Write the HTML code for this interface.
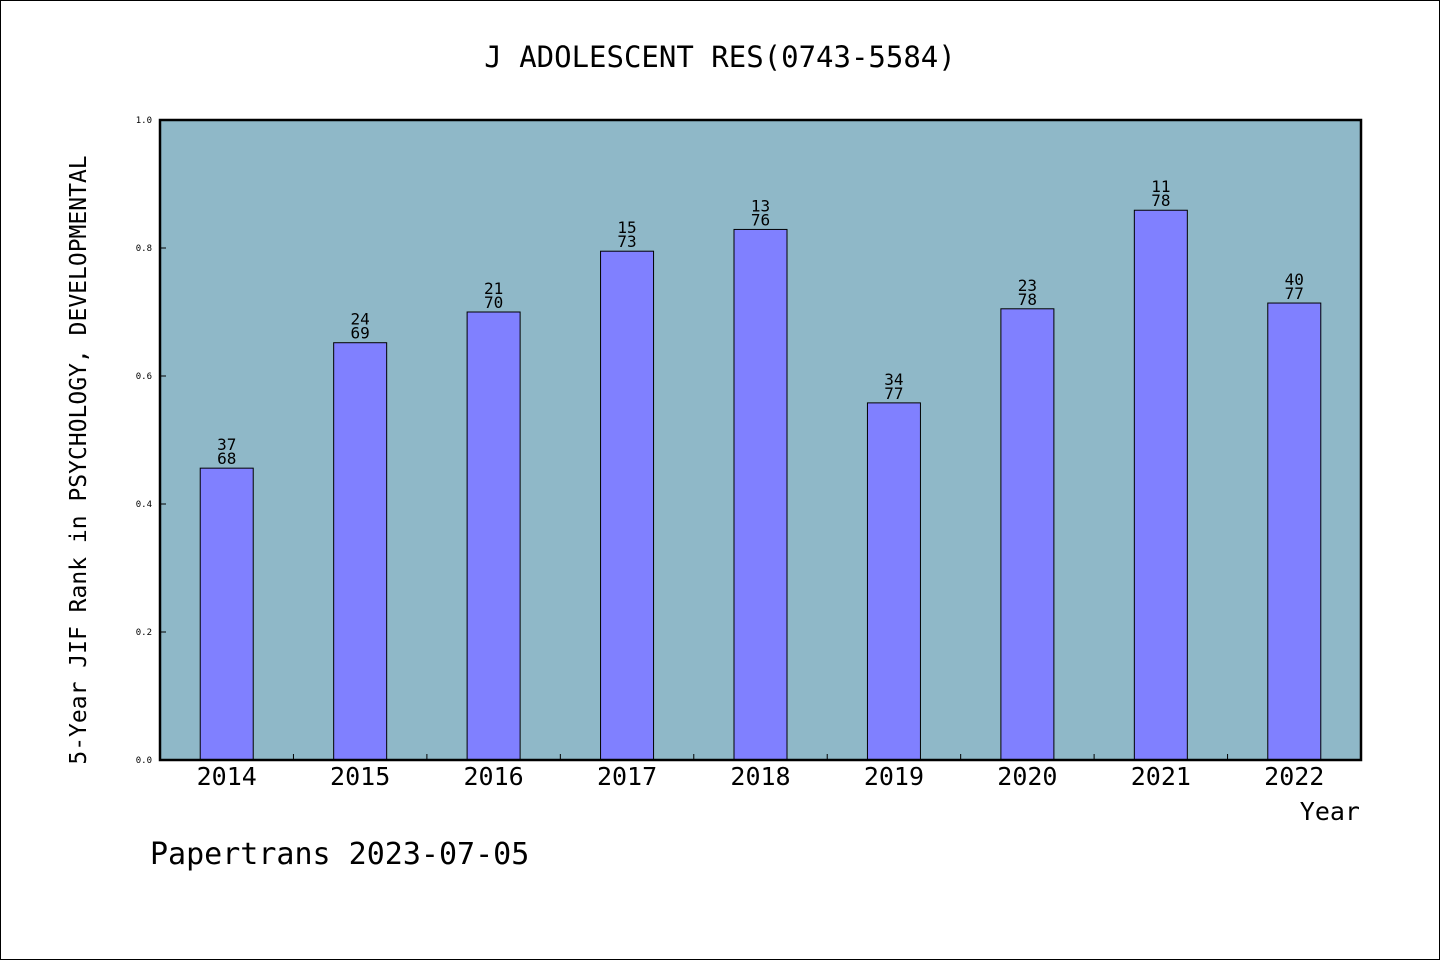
<!DOCTYPE html>
<html><head><meta charset="utf-8"><style>
body{margin:0;background:#fff}
svg{display:block}
text{font-family:"DejaVu Sans Mono","Liberation Mono",monospace;fill:#000}
</style></head><body>
<svg id="chart" width="1440" height="960" xmlns="http://www.w3.org/2000/svg">
<rect x="0.5" y="0.5" width="1439" height="959" fill="#fff" stroke="#000"/>
<text x="720" y="67" font-size="29" text-anchor="middle">J ADOLESCENT RES(0743-5584)</text>
<rect x="160" y="120" width="1201" height="640" fill="#8fb8c8"/>
<g id="bars"></g>
<rect x="160" y="120" width="1201" height="640" fill="none" stroke="#000" stroke-width="2.5"/>
<text transform="translate(86,460) rotate(-90)" font-size="23" text-anchor="middle">5-Year JIF Rank in PSYCHOLOGY, DEVELOPMENTAL</text>
<text x="1360" y="820" font-size="25" text-anchor="end">Year</text>
<text x="150" y="864" font-size="30">Papertrans 2023-07-05</text>
</svg>
<script>
const years=["2014","2015","2016","2017","2018","2019","2020","2021","2022"];
const values=[0.456,0.652,0.700,0.795,0.829,0.558,0.705,0.859,0.714];
const ranks=["37","24","21","15","13","34","23","11","40"];
const totals=["68","69","70","73","76","77","78","78","77"];
const yTicks=[0,0.2,0.4,0.6,0.8,1.0];
const yTickLabels=["0.0","0.2","0.4","0.6","0.8","1.0"];
const ns="http://www.w3.org/2000/svg";
const X0=160,X1=1361,Y0=760,Y1=120;
const bw=(X1-X0)/years.length;
const xc=i=>X0+bw*(i+0.5);
const y=v=>Y0-(Y0-Y1)*v;
const svg=document.getElementById('chart');
const g=document.getElementById('bars');
function mk(t,a,p){const e=document.createElementNS(ns,t);for(const k in a)e.setAttribute(k,a[k]);(p||svg).appendChild(e);return e;}
years.forEach((yr,i)=>{
  const w=53;
  const r=mk('rect',{x:xc(i)-w/2,y:y(values[i]),width:w,height:Y0-y(values[i]),fill:'#8080ff',stroke:'#000','stroke-width':1},g);
  
  
  const t1=mk('text',{x:xc(i),y:y(values[i])-18,'font-size':16,'text-anchor':'middle'},g);t1.textContent=ranks[i];
  
  
  const t2=mk('text',{x:xc(i),y:y(values[i])-4,'font-size':16,'text-anchor':'middle'},g);t2.textContent=totals[i];
  
  
  const xl=mk('text',{x:xc(i),y:785,'font-size':25,'text-anchor':'middle'});xl.textContent=yr;
  
  
  if(i>0){const tk=mk('line',{x1:X0+bw*i,x2:X0+bw*i,y1:Y0,y2:Y0-6,stroke:'#000'});
    
    }
});
yTicks.forEach((v,i)=>{
  const tk=mk('line',{x1:X0,x2:X0+6,y1:y(v),y2:y(v),stroke:'#000'});
  
  
  const l=mk('text',{x:152,y:y(v)+3,'font-size':9,'text-anchor':'end'});l.textContent=yTickLabels[i];
  
  
});
</script>
</body></html>
